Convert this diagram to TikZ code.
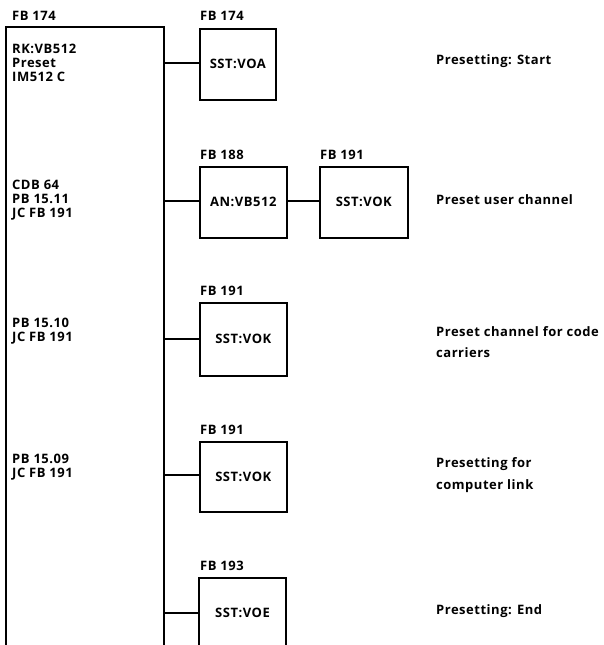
\documentclass[tikz,border=0pt]{standalone}
\usepackage{fontspec}
\setmainfont{Open Sans}[LetterSpace=4]
\begin{document}
\begin{tikzpicture}[x=1pt,y=-1pt,
  txt/.style={font=\fontsize{13}{14}\selectfont\bfseries, inner sep=0pt, align=left, anchor=west},
  rtxt/.style={font=\fontsize{13}{21.5}\selectfont\bfseries, inner sep=0pt, align=left, anchor=west},
  fbbox/.style={draw, line width=1.6pt, inner sep=0pt, anchor=north west, font=\fontsize{13}{13}\selectfont\bfseries},
  conn/.style={line width=1.6pt}]
\useasboundingbox (0,0) rectangle (604,645);
% main block
\coordinate (mtl) at (6,27);
\coordinate (mtr) at (164,27);
\coordinate (mbl) at (6,645);
\coordinate (mbr) at (164,645);
\draw[conn] (mbl) -- (mtl) -- (mtr) -- (mbr);
\node[txt] (mlab) at (12,16) {FB 174};
\node[txt] (t1) at (12,62.5) {RK:VB512\\Preset\\IM512 C};
\node[txt] (t2) at (12,200) {CDB 64\\PB 15.11\\JC FB 191};
\node[txt] (t3) at (12,331) {PB 15.10\\JC FB 191};
\node[txt] (t4) at (12,467) {PB 15.09\\JC FB 191};
% boxes
\node[fbbox, minimum width=76pt, minimum height=71pt] (b1) at (199,28) {SST:VOA};
\node[txt] (l1) at (200,16) {FB 174};
\node[fbbox, minimum width=87pt, minimum height=71pt] (b2) at (199,166) {AN:VB512};
\node[txt] (l2) at (200,155) {FB 188};
\node[fbbox, minimum width=88pt, minimum height=71pt] (b3) at (319,166) {SST:VOK};
\node[txt] (l3) at (320,155) {FB 191};
\node[fbbox, minimum width=87pt, minimum height=73pt] (b4) at (199,302) {SST:VOK};
\node[txt] (l4) at (200,291) {FB 191};
\node[fbbox, minimum width=87pt, minimum height=70pt] (b5) at (199,441) {SST:VOK};
\node[txt] (l5) at (200,430) {FB 191};
\coordinate (b6tl) at (199,578);
\coordinate (b6tr) at (286,578);
\coordinate (b6bl) at (199,645);
\coordinate (b6br) at (286,645);
\draw[conn] (b6bl) -- (b6tl) -- (b6tr) -- (b6br);
\node[font=\fontsize{13}{13}\selectfont\bfseries, inner sep=0pt] (b6) at (242.5,613) {SST:VOE};
\node[txt] (l6) at (200,566) {FB 193};
% connectors
\draw[conn] (164,63) -- (b1.west |- 164,63);
\draw[conn] (164,201) -- (b2.west |- 164,201);
\draw[conn] (b2.east |- 0,201) -- (b3.west |- 0,201);
\draw[conn] (164,339) -- (b4.west |- 0,339);
\draw[conn] (164,475) -- (b5.west |- 0,475);
\draw[conn] (164,613) -- (b6tl |- 0,613);
% right texts
\node[rtxt] (r1) at (436,61) {Presetting: Start};
\node[rtxt] (r2) at (436,200) {Preset user channel};
\node[rtxt] (r3) at (436,342) {Preset channel for code\\carriers};
\node[rtxt] (r4) at (436,475) {Presetting for\\computer link};
\node[rtxt] (r5) at (436,611) {Presetting: End};
\end{tikzpicture}
\end{document}
